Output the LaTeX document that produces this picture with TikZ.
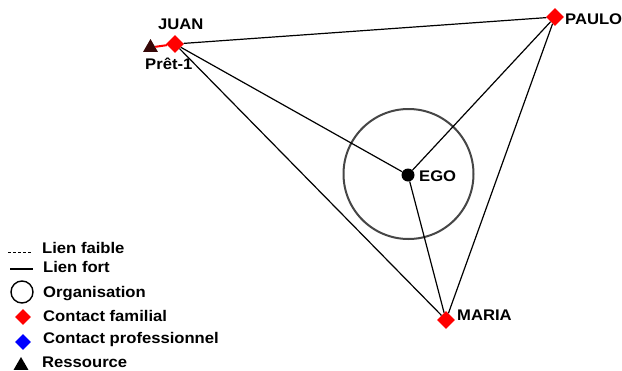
\documentclass[tikz,border=0pt]{standalone}
\usepackage{fontspec}
\setmainfont{Liberation Sans}[FakeStretch=1.08]
\usetikzlibrary{shapes.geometric}
\definecolor{resbrown}{RGB}{55,8,8}
\definecolor{orggray}{RGB}{70,70,70}
\begin{document}
\begin{tikzpicture}[x=1pt,y=-1pt,
  lbl/.style={font=\fontsize{15.4}{18}\selectfont\bfseries, inner sep=0, anchor=base west},
  fam/.style={diamond, fill=red, inner sep=0, minimum size=18pt},
  pro/.style={diamond, fill=blue, inner sep=0, minimum size=16pt},
  res/.style={regular polygon, regular polygon sides=3, inner sep=0, minimum size=17pt},
  link/.style={line width=1.2pt, black},
]
\useasboundingbox (0,0) rectangle (622,370);
% main nodes
\node[circle, draw=orggray, line width=2pt, minimum size=130pt, inner sep=0] (org) at (408.5,174) {};
\node[fam] (juan) at (175,44) {};
\node[res, fill=resbrown] (pret) at (150.5,47.5) {};
\node[fam] (paulo) at (555,17) {};
\node[fam] (maria) at (446,320) {};
\node[circle, fill=black, minimum size=13pt, inner sep=0] (ego) at (408,175) {};
% links
\draw[red, line width=2pt] (pret) -- (juan);
\draw[link] (juan) -- (paulo);
\draw[link] (juan) -- (ego);
\draw[link] (juan) -- (maria);
\draw[link] (paulo) -- (ego);
\draw[link] (paulo) -- (maria);
\draw[link] (ego) -- (maria);
% labels
\node[lbl] (juanl) at (158,29) {JUAN};
\node[lbl] (pretl) at (145,69) {Prêt-1};
\node[lbl] (paulol) at (565,24) {PAULO};
\node[lbl] (marial) at (457,320) {MARIA};
\node[lbl] (egol) at (419,181) {EGO};
% legend
\coordinate (d1) at (8,252);
\coordinate (d2) at (32,252);
\draw[line width=1pt, dash pattern=on 2.5pt off 2.5pt] (d1) -- (d2);
\coordinate (s1) at (10,269);
\coordinate (s2) at (33,269);
\draw[line width=1.2pt] (s1) -- (s2);
\node[circle, draw, line width=1.4pt, minimum size=22pt, inner sep=0] (lorg) at (22,292) {};
\node[fam, minimum size=16pt] (lfam) at (23,317) {};
\node[pro] (lpro) at (23,342) {};
\node[res, fill=black, minimum size=17pt] (lres) at (21,365.5) {};
\node[lbl] (t1) at (42,253) {Lien faible};
\node[lbl] (t2) at (43,272) {Lien fort};
\node[lbl] (t3) at (43,297) {Organisation};
\node[lbl] (t4) at (43,321) {Contact familial};
\node[lbl] (t5) at (43,343) {Contact professionnel};
\node[lbl] (t6) at (42,367) {Ressource};
\end{tikzpicture}
\end{document}
